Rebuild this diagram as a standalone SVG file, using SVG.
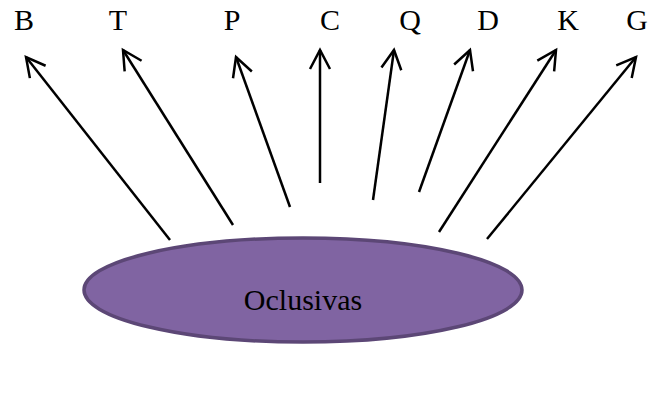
<svg xmlns="http://www.w3.org/2000/svg" width="653" height="393" viewBox="0 0 653 393">
<defs>
<style>
text{font-family:'Liberation Serif','Times New Roman',serif;font-size:30px;fill:#000;text-anchor:middle}
.c{stroke:#000;stroke-width:2.5;fill:none;marker-end:url(#ah)}
</style>
<marker id="ah" markerUnits="userSpaceOnUse" orient="auto" refX="0" refY="0" overflow="visible">
<path d="M-19,-10 L0,0 L-19,10" fill="none" stroke="#000" stroke-width="2.5" stroke-linejoin="miter"/>
</marker>
</defs>
<rect width="653" height="393" fill="#fff"/>
<g id="node-oclusivas">
<ellipse cx="303" cy="290" rx="219" ry="52" fill="#8064a2" stroke="#5c4776" stroke-width="3.5"/>
<text x="303" y="310" font-family="Liberation Serif, Times New Roman, serif" font-size="30" text-anchor="middle">Oclusivas</text>
</g>
<g font-family="Liberation Serif, Times New Roman, serif" font-size="30" text-anchor="middle">
<g id="node-B"><text x="24" y="30">B</text></g>
<g id="node-T"><text x="118" y="30">T</text></g>
<g id="node-P"><text x="232" y="30">P</text></g>
<g id="node-C"><text x="330" y="30">C</text></g>
<g id="node-Q"><text x="410" y="30">Q</text></g>
<g id="node-D"><text x="488" y="30">D</text></g>
<g id="node-K"><text x="568" y="30">K</text></g>
<g id="node-G"><text x="637" y="30">G</text></g>
</g>
<g id="connectors">
<line class="c" x1="170" y1="240" x2="26" y2="57"/>
<line class="c" x1="233" y1="225" x2="123" y2="50"/>
<line class="c" x1="290" y1="207" x2="236" y2="57"/>
<line class="c" x1="320" y1="183" x2="320" y2="50"/>
<line class="c" x1="373" y1="200" x2="394" y2="50"/>
<line class="c" x1="419" y1="192" x2="470" y2="50"/>
<line class="c" x1="439" y1="232" x2="556" y2="50"/>
<line class="c" x1="487" y1="239" x2="636" y2="57"/>
</g>
</svg>
